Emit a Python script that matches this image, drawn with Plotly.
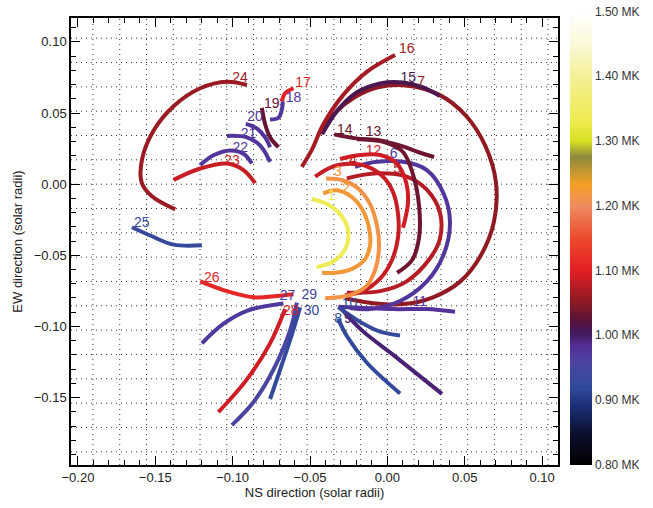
import numpy as np
import plotly.graph_objects as go
from plotly.colors import sample_colorscale

# ---------------- data (solar radii) ----------------
L1_X = [-0.0489, -0.0381, -0.0295, -0.0252, -0.0273, -0.0349, -0.0457]
L1_Y = [-0.0104, -0.0144, -0.0225, -0.0340, -0.0456, -0.0544, -0.0583]
L2_X = [-0.0415, -0.0325, -0.0228, -0.0157, -0.0118, -0.0112, -0.0144, -0.0228, -0.0338, -0.0422]
L2_Y = [-0.0064, -0.0043, -0.0092, -0.0188, -0.0312, -0.0430, -0.0527, -0.0595, -0.0623, -0.0623]
L3_X = [-0.0396, -0.0286, -0.0189, -0.0112, -0.0067, -0.0054, -0.0079, -0.0138, -0.0228, -0.0318, -0.0402]
L3_Y = [0.0039, 0.0026, -0.0030, -0.0140, -0.0292, -0.0444, -0.0602, -0.0719, -0.0774, -0.0795, -0.0802]
L4_X = [-0.0467, -0.0357, -0.0241, -0.0125, -0.0028, 0.0037, 0.0069, 0.0069, 0.0030, -0.0047, -0.0163, -0.0274]
L4_Y = [0.0053, 0.0122, 0.0143, 0.0122, 0.0053, -0.0057, -0.0209, -0.0374, -0.0533, -0.0664, -0.0754, -0.0781]
L5_X = [-0.0262, -0.0068, 0.0125, 0.0255, 0.0340, 0.0340, 0.0276, 0.0125, -0.0047, -0.0262]
L5_Y = [0.0041, 0.0076, 0.0053, -0.0039, -0.0200, -0.0383, -0.0521, -0.0683, -0.0752, -0.0763]
L6_X = [-0.0209, -0.0068, 0.0103, 0.0255, 0.0362, 0.0405, 0.0362, 0.0255, 0.0082, -0.0112, -0.0241]
L6_Y = [0.0122, 0.0157, 0.0157, 0.0099, -0.0062, -0.0269, -0.0499, -0.0683, -0.0821, -0.0878, -0.0871]
L7_X = [-0.0448, -0.0338, -0.0209, -0.0060, 0.0121, 0.0340, 0.0508, 0.0631, 0.0702, 0.0689, 0.0605,
        0.0470, 0.0295, 0.0101, -0.0092, -0.0274]
L7_Y = [0.0343, 0.0501, 0.0612, 0.0681, 0.0694, 0.0626, 0.0481, 0.0274, 0.0012, -0.0264, -0.0499,
        -0.0685, -0.0795, -0.0843, -0.0837, -0.0802]
L8_X = [-0.0318, -0.0260, -0.0131, 0.0082]
L8_Y = [-0.0947, -0.1071, -0.1257, -0.1471]
L9_X = [-0.0306, -0.0166, 0.0050, 0.0353]
L9_Y = [-0.0864, -0.1026, -0.1210, -0.1474]
L10_X = [-0.0318, -0.0176, -0.0047, 0.0082]
L10_Y = [-0.0864, -0.0968, -0.1037, -0.1064]
L11_X = [-0.0317, 0.0039, 0.0255, 0.0437]
L11_Y = [-0.0862, -0.0878, -0.0878, -0.0897]
L12_X = [-0.0306, -0.0176, -0.0047, 0.0056, 0.0114, 0.0134, 0.0101]
L12_Y = [0.0177, 0.0205, 0.0205, 0.0150, 0.0039, -0.0119, -0.0306]
L13_X = [-0.0196, -0.0015, 0.0101, 0.0166, 0.0205, 0.0205, 0.0160, 0.0063]
L13_Y = [0.0315, 0.0294, 0.0226, 0.0067, -0.0154, -0.0374, -0.0533, -0.0623]
L14_X = [-0.0344, -0.0202, -0.0047, 0.0095, 0.0198, 0.0302]
L14_Y = [0.0350, 0.0322, 0.0308, 0.0267, 0.0226, 0.0191]
L15_X = [-0.0422, -0.0325, -0.0196, -0.0047, 0.0101, 0.0231, 0.0340]
L15_Y = [0.0350, 0.0515, 0.0646, 0.0708, 0.0715, 0.0681, 0.0619]
L16_X = [-0.0553, -0.0486, -0.0415, -0.0286, -0.0131, 0.0050]
L16_Y = [0.0122, 0.0246, 0.0419, 0.0626, 0.0791, 0.0908]
L17_X = [-0.0682, -0.0661, -0.0607]
L17_Y = [0.0582, 0.0639, 0.0674]
L18_X = [-0.0758, -0.0704, -0.0682, -0.0676]
L18_Y = [0.0455, 0.0467, 0.0524, 0.0582]
L19_X = [-0.0811, -0.0790, -0.0758, -0.0704]
L19_Y = [0.0536, 0.0421, 0.0329, 0.0260]
L20_X = [-0.0915, -0.0844, -0.0790, -0.0758]
L20_Y = [0.0424, 0.0392, 0.0329, 0.0260]
L21_X = [-0.1037, -0.0908, -0.0822, -0.0758]
L21_Y = [0.0339, 0.0329, 0.0271, 0.0157]
L22_X = [-0.1210, -0.1124, -0.1016, -0.0930, -0.0876]
L22_Y = [0.0134, 0.0203, 0.0237, 0.0214, 0.0145]
L23_X = [-0.1382, -0.1210, -0.1037, -0.0930, -0.0855]
L23_Y = [0.0030, 0.0110, 0.0145, 0.0099, 0.0007]
L24_X = [-0.0908, -0.1037, -0.1210, -0.1382, -0.1512, -0.1587, -0.1587, -0.1522, -0.1371]
L24_Y = [0.0697, 0.0720, 0.0674, 0.0548, 0.0375, 0.0168, 0.0007, -0.0085, -0.0177]
L25_X = [-0.1651, -0.1533, -0.1382, -0.1199]
L25_Y = [-0.0303, -0.0361, -0.0425, -0.0430]
L26_X = [-0.1210, -0.1037, -0.0866, -0.0714, -0.0607]
L26_Y = [-0.0683, -0.0752, -0.0795, -0.0786, -0.0774]
L27_X = [-0.1199, -0.1059, -0.0908, -0.0672]
L27_Y = [-0.1119, -0.0981, -0.0890, -0.0839]
L28_X = [-0.0661, -0.0758, -0.0908, -0.1092]
L28_Y = [-0.0878, -0.1119, -0.1372, -0.1602]
L29_X = [-0.0585, -0.0629, -0.0736, -0.0866, -0.1005]
L29_Y = [-0.0832, -0.1028, -0.1303, -0.1533, -0.1694]
L30_X = [-0.0564, -0.0629, -0.0693, -0.0758]
L30_Y = [-0.0866, -0.1097, -0.1303, -0.1510]

# loop temperatures (MK), one per loop 1..30
TEMPS = [1.335, 1.222, 1.214, 1.085, 1.075, 0.975, 1.055, 0.925, 0.995, 0.93,
         0.98, 1.09, 1.035, 1.035, 1.01, 1.066, 1.10, 0.975, 1.03, 0.975,
         0.975, 0.975, 1.085, 1.06, 0.93, 1.11, 0.97, 1.09, 0.955, 0.925]

# loop labels
LABEL_TEXT = [str(i) for i in range(1, 31)]
LABEL_X = [-0.0360, -0.0270, -0.0320, -0.0222, 0.0063, 0.0040, 0.0218, -0.0318, -0.0255, -0.0245,
           0.0210, -0.0090, -0.0090, -0.0275, 0.0135, 0.0125, -0.0545, -0.0607, -0.0747, -0.0855,
           -0.0898, -0.0951, -0.1005, -0.0952, -0.1587, -0.1135, -0.0645, -0.0625, -0.0505, -0.0490]
LABEL_Y = [-0.0090, -0.0040, 0.0085, 0.0165, 0.0103, 0.0207, 0.0712, -0.0950, -0.0950, -0.0845,
           -0.0835, 0.0227, 0.0360, 0.0377, 0.0745, 0.0944, 0.0708, 0.0605, 0.0563, 0.0470,
           0.0350, 0.0250, 0.0157, 0.0743, -0.0274, -0.0664, -0.0790, -0.0895, -0.0780, -0.0895]

# colour bar
T_MIN, T_MAX = 0.80, 1.50
CB_TICKS = [0.80, 0.90, 1.00, 1.10, 1.20, 1.30, 1.40, 1.50]
CB_TEXT = ["0.80 MK", "0.90 MK", "1.00 MK", "1.10 MK", "1.20 MK", "1.30 MK", "1.40 MK", "1.50 MK"]

# grid spacing (heliographic grid drawn as dotted lines)
GRID_DX = 0.0173
GRID_DY = 0.0171

X_RANGE = [-0.2045, 0.1103]
Y_RANGE = [-0.1974, 0.1168]

COLORSCALE = [
    [0.0, "rgb(0,0,0)"],
    [0.07, "rgb(12,16,48)"],
    [0.13, "rgb(28,47,120)"],
    [0.17, "rgb(46,74,154)"],
    [0.22, "rgb(74,70,160)"],
    [0.26, "rgb(85,48,154)"],
    [0.29, "rgb(66,26,94)"],
    [0.32, "rgb(90,18,56)"],
    [0.36, "rgb(140,26,34)"],
    [0.43, "rgb(228,30,38)"],
    [0.50, "rgb(236,74,42)"],
    [0.57, "rgb(240,138,96)"],
    [0.62, "rgb(244,160,36)"],
    [0.68, "rgb(140,138,62)"],
    [0.715, "rgb(216,224,34)"],
    [0.76, "rgb(238,236,80)"],
    [0.86, "rgb(244,240,152)"],
    [0.93, "rgb(251,249,216)"],
    [1.0, "rgb(255,255,255)"],
]

LOOPS_X = [L1_X, L2_X, L3_X, L4_X, L5_X, L6_X, L7_X, L8_X, L9_X, L10_X,
           L11_X, L12_X, L13_X, L14_X, L15_X, L16_X, L17_X, L18_X, L19_X, L20_X,
           L21_X, L22_X, L23_X, L24_X, L25_X, L26_X, L27_X, L28_X, L29_X, L30_X]
LOOPS_Y = [L1_Y, L2_Y, L3_Y, L4_Y, L5_Y, L6_Y, L7_Y, L8_Y, L9_Y, L10_Y,
           L11_Y, L12_Y, L13_Y, L14_Y, L15_Y, L16_Y, L17_Y, L18_Y, L19_Y, L20_Y,
           L21_Y, L22_Y, L23_Y, L24_Y, L25_Y, L26_Y, L27_Y, L28_Y, L29_Y, L30_Y]


def temp_color(t):
    pos = (t - T_MIN) / (T_MAX - T_MIN)
    return sample_colorscale(COLORSCALE, [pos])[0]


colors = [temp_color(t) for t in TEMPS]

fig = go.Figure()

# draw order: outer / background loops first
order = [7, 15, 16, 24, 6, 5, 13, 14, 12, 4, 3, 2, 1, 11, 9, 10, 8,
         23, 22, 21, 20, 19, 18, 17, 25, 26, 27, 28, 29, 30]
for i in order:
    k = i - 1
    fig.add_trace(go.Scatter(
        x=LOOPS_X[k], y=LOOPS_Y[k], mode="lines",
        line=dict(color=colors[k], width=4, shape="spline", smoothing=1.0),
        hoverinfo="skip", showlegend=False))

fig.add_trace(go.Scatter(
    x=LABEL_X, y=LABEL_Y, mode="text", text=LABEL_TEXT,
    textfont=dict(family="Liberation Sans, Arial, sans-serif", size=14, color=colors),
    textposition="middle center", hoverinfo="skip", showlegend=False))

# colour bar carrier
fig.add_trace(go.Scatter(
    x=[None], y=[None], mode="markers",
    marker=dict(color=[T_MIN, T_MAX], cmin=T_MIN, cmax=T_MAX, colorscale=COLORSCALE,
                showscale=True,
                colorbar=dict(thickness=22, len=453, lenmode="pixels", x=1.0246, xanchor="left",
                              xpad=0, ypad=0, y=0.5077, yanchor="middle", outlinewidth=0,
                              tickvals=CB_TICKS, ticktext=CB_TEXT, ticks="",
                              tickfont=dict(family="Liberation Sans, Arial, sans-serif",
                                            size=12, color="#333"))),
    hoverinfo="skip", showlegend=False))

# dotted grid
shapes = []
for gx in np.arange(np.ceil(X_RANGE[0] / GRID_DX), np.floor(X_RANGE[1] / GRID_DX) + 1) * GRID_DX:
    shapes.append(dict(type="line", xref="x", yref="paper", x0=gx, x1=gx, y0=0, y1=1,
                       line=dict(color="#333", width=1, dash="1px,4px"), layer="below"))
for gy in np.arange(np.ceil(Y_RANGE[0] / GRID_DY), np.floor(Y_RANGE[1] / GRID_DY) + 1) * GRID_DY:
    shapes.append(dict(type="line", xref="paper", yref="y", x0=0, x1=1, y0=gy, y1=gy,
                       line=dict(color="#333", width=1, dash="1px,4px"), layer="below"))

axis_font = dict(family="Liberation Sans, Arial, sans-serif", size=13, color="#222")
common = dict(showgrid=False, zeroline=False, showline=True, linecolor="black", linewidth=1.5,
              mirror="allticks", ticks="inside", ticklen=9, tickwidth=1.3, tickcolor="black",
              tick0=0, dtick=0.05, tickformat=".2f", tickfont=axis_font,
              minor=dict(dtick=0.01, ticks="inside", ticklen=5, tickcolor="black", tickwidth=1))

fig.update_layout(
    width=653, height=508, autosize=False,
    margin=dict(l=71, r=95, t=18, b=36),
    paper_bgcolor="white", plot_bgcolor="white",
    shapes=shapes,
    xaxis=dict(range=X_RANGE, title=dict(text="NS direction (solar radii)", font=axis_font, standoff=2),
               **common),
    yaxis=dict(range=Y_RANGE, title=dict(text="EW direction (solar radii)", font=axis_font, standoff=8),
               **common),
)

fig.write_html("out.html")
